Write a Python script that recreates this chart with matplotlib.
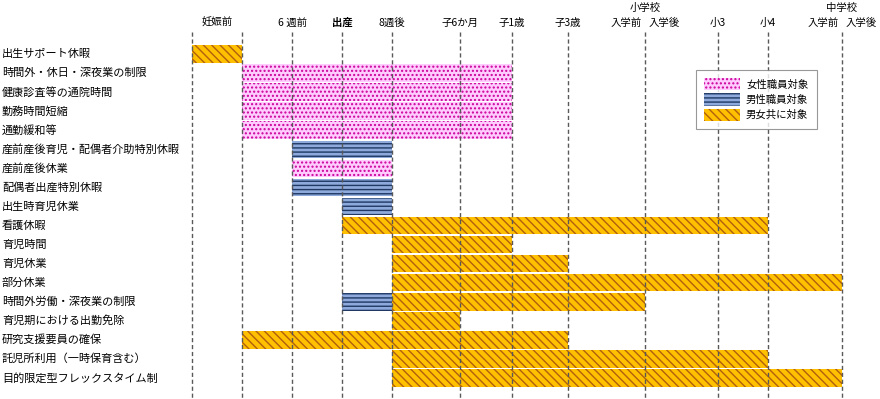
import matplotlib
matplotlib.use('Agg')
import matplotlib.pyplot as plt
from matplotlib.patches import Patch
from matplotlib.transforms import blended_transform_factory

plt.rcParams['font.family'] = ['Noto Sans CJK JP', 'DejaVu Sans']
plt.rcParams['hatch.linewidth'] = 1.0

# 行ラベル（上から）
rows = ['出生サポート休暇', '時間外・休日・深夜業の制限', '健康診査等の通院時間', '勤務時間短縮',
        '通勤緩和等', '産前産後育児・配偶者介助特別休暇', '産前産後休業', '配偶者出産特別休暇',
        '出生時育児休業', '看護休暇', '育児時間', '育児休業', '部分休業',
        '時間外労働・深夜業の制限', '育児期における出勤免除', '研究支援要員の確保',
        '託児所利用（一時保育含む）', '目的限定型フレックスタイム制']

# 時間軸の区切り（妊娠前 … 中学校入学）
stage_pos = [0, 50, 100, 150, 200, 268, 320, 376, 453, 526, 576, 650]
stage_labels = ['', '', '6 週前', '出産', '8週後', '子6か月', '子1歳', '子3歳', '', '小3', '小4', '']

# バー: 行番号, 開始区切り, 終了区切り, 対象
bar_row   = [0, 1, 2, 3, 4, 5, 6, 7, 8, 9, 10, 11, 12, 13, 13, 14, 15, 16, 17]
bar_start = [0, 1, 1, 1, 1, 2, 2, 2, 3, 3, 4, 4, 4, 3, 4, 4, 1, 4, 4]
bar_end   = [1, 6, 6, 6, 6, 4, 4, 4, 4, 10, 6, 7, 11, 4, 8, 5, 7, 10, 11]
bar_kind  = ['both', 'female', 'female', 'female', 'female', 'male', 'female', 'male', 'male',
             'both', 'both', 'both', 'both', 'male', 'both', 'both', 'both', 'both', 'both']

kind_labels = {'female': '女性職員対象', 'male': '男性職員対象', 'both': '男女共に対象'}
styles = {
    'female': dict(facecolor='#FFCCFF', edgecolor='#CC0099', hatch='....'),
    'male': dict(facecolor='#8EA9DB', edgecolor='#1F3864', hatch='----'),
    'both': dict(facecolor='#FFC000', edgecolor='#B0600E', hatch='\\\\\\\\'),
}

fig = plt.figure(figsize=(8.8, 3.99), dpi=100)
ax = fig.add_axes([0, 0, 1, 1])
ax.set_xlim(-192, 688)
ax.set_ylim(18.10, -2.833)
ax.axis('off')

for r, s, e, k in zip(bar_row, bar_start, bar_end, bar_kind):
    ax.barh(r, stage_pos[e] - stage_pos[s], left=stage_pos[s], height=0.92,
            linewidth=0, zorder=2, **styles[k])

# 破線
ax.vlines(stage_pos, -1.15, 18.10, colors='#595959', linestyles=(0, (3, 2)),
          linewidth=1.0, zorder=3)

# 行ラベル
trans = blended_transform_factory(fig.transFigure, ax.transData)
for i, name in enumerate(rows):
    ax.text(2 / 880, i, name, transform=trans, fontsize=8, ha='left', va='center')

# 見出し
hy = -1.63
ax.text((stage_pos[0] + stage_pos[1]) / 2, hy, '妊娠前', fontsize=7.5, ha='center', va='center')
for p, lab in zip(stage_pos, stage_labels):
    if lab:
        ax.text(p, hy, lab, fontsize=7.5, ha='center', va='center',
                fontweight='bold' if lab == '出産' else 'normal')
for idx, school in [(8, '小学校'), (11, '中学校')]:
    p = stage_pos[idx]
    ax.text(p - 3, hy, '入学前', fontsize=7.5, ha='right', va='center')
    ax.text(p + 4, hy, '入学後', fontsize=7.5, ha='left', va='center')
    ax.text(p, -2.41, school, fontsize=7.5, ha='center', va='center')

handles = [Patch(linewidth=0, label=kind_labels[k], **styles[k]) for k in ['female', 'male', 'both']]
leg = fig.legend(handles=handles, loc='upper left', bbox_to_anchor=(696 / 880, 1 - 70 / 399),
                 fontsize=7.5, frameon=True, fancybox=False, borderaxespad=0,
                 handlelength=3.4, handleheight=1.4, labelspacing=0.3, handletextpad=0.6,
                 borderpad=0.8)
leg.get_frame().set_edgecolor('#7F7F7F')
leg.get_frame().set_linewidth(0.8)

fig.savefig('out.png', dpi=100)
